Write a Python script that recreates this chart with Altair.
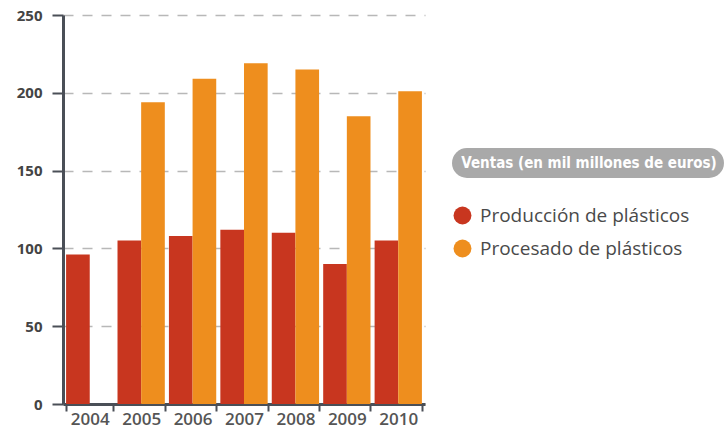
import altair as alt
import pandas as pd

years = ["2004", "2005", "2006", "2007", "2008", "2009", "2010"]
produccion = [96, 105, 108, 112, 110, 90, 105]
procesado = [None, 194, 209, 219, 215, 185, 201]
series_names = ["Producción de plásticos", "Procesado de plásticos"]
series_colors = ["#C8361F", "#EE8E1E"]
legend_title = "Ventas (en mil millones de euros)"

rows = []
for i, y in enumerate(years):
    rows.append({"year": y, "serie": series_names[0], "value": produccion[i]})
    if procesado[i] is not None:
        rows.append({"year": y, "serie": series_names[1], "value": procesado[i]})
df = pd.DataFrame(rows)

W, H = 362, 389

bars = alt.Chart(df).mark_bar().encode(
    x=alt.X("year:N", sort=years, title=None,
            scale=alt.Scale(paddingInner=0.08, paddingOuter=0.06),
            axis=alt.Axis(tickBand="extent", labelAngle=0, domainColor="#4a4f57",
                          domainWidth=3, tickColor="#4a4f57", tickWidth=2, tickSize=7,
                          labelFontSize=17, labelColor="#555555", labelFont="Open Sans",
                          labelFontWeight=600, labelPadding=0, grid=False)),
    xOffset=alt.XOffset("serie:N", sort=series_names),
    y=alt.Y("value:Q", title=None,
            scale=alt.Scale(domain=[0, 250], nice=False),
            axis=alt.Axis(values=[0, 50, 100, 150, 200, 250], domainColor="#4a4f57",
                          domainWidth=3, tickColor="#4a4f57", tickWidth=2, tickSize=11,
                          labelFontSize=15, labelColor="#444444", labelFont="Open Sans",
                          labelFontWeight=700, labelPadding=10,
                          grid=True, gridDash=[10, 9], gridColor="#b8b8b8", gridWidth=1.5)),
    color=alt.Color("serie:N", sort=series_names,
                    scale=alt.Scale(domain=series_names, range=series_colors),
                    legend=alt.Legend(title=None, orient="none", legendX=390, legendY=191,
                                      symbolType="circle", symbolSize=320, symbolStrokeWidth=0,
                                      labelFontSize=19, labelColor="#4a4a4a", labelFont="Open Sans",
                                      labelFontWeight=500,
                                      labelOffset=8, rowPadding=13, labelLimit=400)),
)

pill_df = pd.DataFrame({"t": [legend_title]})
pill = alt.Chart(pill_df).mark_rule(strokeWidth=30, strokeCap="round", color="#a9a9a9").encode(
    x=alt.value(404), x2=alt.value(646), y=alt.value(148)
)
pill_text = alt.Chart(pill_df).mark_text(
    font="DejaVu Sans Condensed", fontSize=15, fontWeight="bold", color="white",
    align="center", baseline="middle"
).encode(x=alt.value(526), y=alt.value(148), text="t:N")

chart = alt.layer(bars, pill, pill_text).properties(
    width=W, height=H,
    autosize=alt.AutoSizeParams(type="none"),
    padding={"left": 63, "top": 15, "right": 303, "bottom": 30},
).configure_view(stroke=None)

chart.save("out.html", embed_options={"renderer": "svg", "actions": False})
